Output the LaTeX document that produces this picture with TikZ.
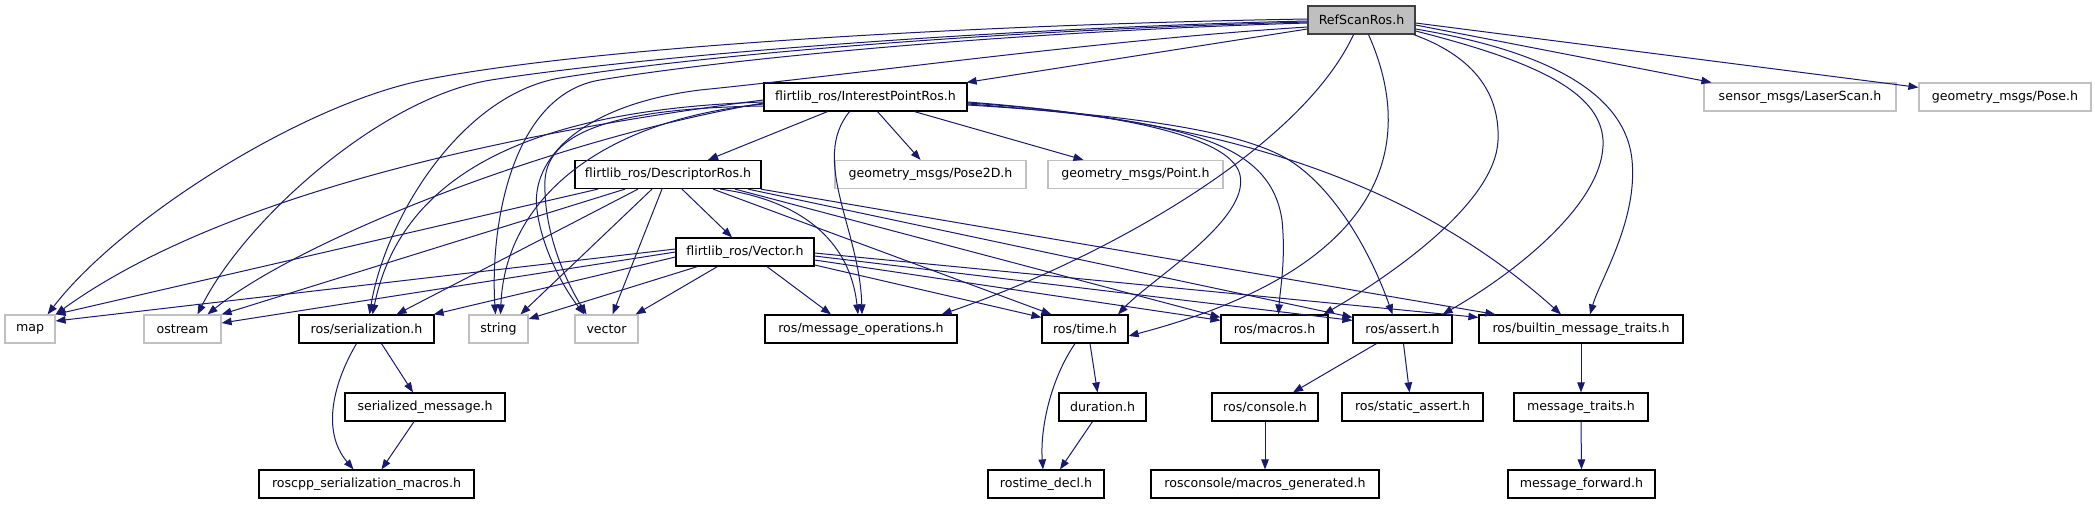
\documentclass[tikz,border=0pt]{standalone}
\usepackage{fontspec}
\setmainfont{DejaVu Sans}
\usetikzlibrary{arrows.meta}
\definecolor{eblue}{HTML}{191970}
\definecolor{lgray}{HTML}{C0C0C0}
\definecolor{rootfill}{HTML}{BFBFBF}
\definecolor{dgray}{HTML}{404040}
\tikzset{
  box/.style={rectangle, draw=black, line width=1.2pt, minimum height=28pt, inner sep=0pt, text=black, font=\fontsize{12.6}{14}\selectfont},
  ext/.style={box, draw=lgray},
  root/.style={box, fill=rootfill, draw=dgray},
  edge/.style={draw=eblue, line width=1pt, -{Triangle[length=10pt,width=7.5pt]}}
}
\begin{document}
\begin{tikzpicture}[x=1pt,y=-1pt]
\useasboundingbox[fill=white] (0,0) rectangle (2095,504);
% row 1
\node[root, minimum width=107pt] (ref) at (1361.5,20) {RefScanRos.h};
% row 2
\node[box, minimum width=203pt] (ipr) at (865.5,97) {flirtlib\_ros/InterestPointRos.h};
\node[ext, minimum width=192pt] (laser) at (1800,97) {sensor\_msgs/LaserScan.h};
\node[ext, minimum width=172pt] (pose) at (2005,97) {geometry\_msgs/Pose.h};
% row 3
\node[box, minimum width=186pt] (desc) at (668,174.5) {flirtlib\_ros/DescriptorRos.h};
\node[ext, minimum width=191pt] (pose2d) at (930.5,174.5) {geometry\_msgs/Pose2D.h};
\node[ext, minimum width=175pt] (point) at (1135.5,174.5) {geometry\_msgs/Point.h};
% row 4
\node[box, minimum width=138pt] (vec) at (745,252) {flirtlib\_ros/Vector.h};
% row 5
\node[ext, minimum width=50pt] (map) at (30,329) {map};
\node[ext, minimum width=77pt] (ostream) at (182.5,329) {ostream};
\node[box, minimum width=135pt] (ser) at (366.5,329) {ros/serialization.h};
\node[ext, minimum width=59pt] (string) at (498.5,329) {string};
\node[ext, minimum width=63pt] (vector) at (606.5,329) {vector};
\node[box, minimum width=192pt] (msgops) at (861,329) {ros/message\_operations.h};
\node[box, minimum width=86pt] (time) at (1085,329) {ros/time.h};
\node[box, minimum width=107pt] (macros) at (1274.5,329) {ros/macros.h};
\node[box, minimum width=99pt] (assert) at (1402.5,329) {ros/assert.h};
\node[box, minimum width=204pt] (builtin) at (1581,329) {ros/builtin\_message\_traits.h};
% row 6
\node[box, minimum width=160pt] (sermsg) at (425,407) {serialized\_message.h};
\node[box, minimum width=87pt] (duration) at (1102.5,407) {duration.h};
\node[box, minimum width=106pt] (console) at (1265,407) {ros/console.h};
\node[box, minimum width=141pt] (static) at (1412.5,407) {ros/static\_assert.h};
\node[box, minimum width=134pt] (msgtraits) at (1581,407) {message\_traits.h};
% row 7
\node[box, minimum width=215pt] (rscm) at (366.5,484) {roscpp\_serialization\_macros.h};
\node[box, minimum width=116pt] (rostime) at (1046,484) {rostime\_decl.h};
\node[box, minimum width=228pt] (macgen) at (1265,484) {rosconsole/macros\_generated.h};
\node[box, minimum width=147pt] (msgfwd) at (1581.5,484) {message\_forward.h};

% ---- RefScanRos.h
\draw[edge] ([yshift=-9]ref.west) -- ([xshift=-1]ipr.north east);
\draw[edge] ([yshift=-5]ref.east) -- ([xshift=8]laser.north west);
\draw[edge] ([yshift=-3]ref.east) -- ([yshift=-5]pose.north west);
\draw[edge] ([yshift=1]ref.west) .. controls (1000,24) and (600,45) .. (424,80) .. controls (300,105) and (120,220) .. ([xshift=-8]map.north east);
\draw[edge] ([yshift=-1]ref.west) .. controls (1000,28) and (650,55) .. (491,80) .. controls (380,98) and (245,220) .. ([xshift=15]ostream.north);
\draw[edge] ([yshift=-2]ref.west) .. controls (1000,30) and (700,55) .. (560,78) .. controls (460,95) and (385,220) .. ([xshift=3]ser.north);
\draw[edge] ([yshift=-3]ref.west) .. controls (1000,32) and (720,60) .. (600,80) .. controls (510,95) and (490,230) .. ([xshift=-3]string.north);
\draw[edge] ([yshift=-7]ref.west) .. controls (1100,40) and (850,75) .. (700,90) .. controls (580,105) and (530,160) .. (537,210) .. controls (542,250) and (565,290) .. ([xshift=-22]vector.north);
\draw[edge] ([xshift=-8]ref.south) .. controls (1300,150) and (1100,260) .. ([xshift=-16]msgops.north east);
\draw[edge] ([xshift=7]ref.south) .. controls (1420,150) and (1380,270) .. ([yshift=-7]time.east);
\draw[edge] ([xshift=-2]ref.south east) .. controls (1470,55) and (1500,90) .. (1498,140) .. controls (1496,200) and (1400,270) .. ([xshift=-5]macros.north east);
\draw[edge] ([yshift=-11]ref.east) .. controls (1530,60) and (1600,90) .. (1603,140) .. controls (1606,200) and (1520,270) .. ([xshift=-10]assert.north east);
\draw[edge] ([yshift=-9]ref.east) .. controls (1540,50) and (1625,90) .. (1632,160) .. controls (1638,220) and (1600,280) .. ([xshift=9]builtin.north);

% ---- InterestPointRos.h
\draw[edge] ([xshift=-38]ipr.south) -- ([xshift=40]desc.north);
\draw[edge] ([xshift=12]ipr.south) -- ([xshift=-10]pose2d.north);
\draw[edge] ([xshift=49]ipr.south) -- ([xshift=-52]point.north);
\draw[edge] ([xshift=-16]ipr.south) .. controls (810,160) and (860,230) .. ([xshift=1]msgops.north);
\draw[edge] ([yshift=-3]ipr.west) .. controls (450,140) and (200,210) .. (map.north east);
\draw[edge] ([yshift=-6]ipr.west) .. controls (550,140) and (300,240) .. ([xshift=25]ostream.north);
\draw[edge] ([yshift=-5]ipr.west) .. controls (520,110) and (400,180) .. ([xshift=6]ser.north);
\draw[edge] ([yshift=-7]ipr.west) .. controls (600,120) and (505,200) .. ([xshift=2]string.north);
\draw[edge] ([yshift=-9]ipr.west) .. controls (620,108) and (548,130) .. (545,180) .. controls (543,230) and (565,280) .. ([xshift=-20]vector.north);
\draw[edge] ([yshift=-6]ipr.east) .. controls (1080,110) and (1230,130) .. (1240,175) .. controls (1250,220) and (1150,280) .. ([xshift=33]time.north);
\draw[edge] ([yshift=-7]ipr.east) .. controls (1180,120) and (1270,140) .. (1282,220) .. controls (1286,260) and (1280,290) .. ([xshift=4]macros.north);
\draw[edge] ([yshift=-8]ipr.east) .. controls (1130,115) and (1230,130) .. (1280,155) .. controls (1330,180) and (1370,250) .. ([xshift=-10]assert.north);
\draw[edge] ([yshift=-5]ipr.east) .. controls (1200,120) and (1400,170) .. ([xshift=-20]builtin.north);

% ---- DescriptorRos.h
\draw[edge] ([xshift=-70]desc.south) -- (map.north east);
\draw[edge] ([xshift=-43]desc.south) -- (ostream.north east);
\draw[edge] ([xshift=-30]desc.south) -- ([xshift=30]ser.north);
\draw[edge] ([xshift=-16]desc.south) -- ([xshift=22]string.north);
\draw[edge] ([xshift=-6]desc.south) -- ([xshift=6]vector.north);
\draw[edge] ([xshift=14]desc.south) -- ([xshift=-13]vec.north);
\draw[edge] ([xshift=52]desc.south) .. controls (800,200) and (850,240) .. ([xshift=-3]msgops.north);
\draw[edge] ([xshift=45]desc.south) -- ([xshift=10]time.north west);
\draw[edge] ([xshift=67]desc.south) -- ([yshift=-3]macros.north west);
\draw[edge] ([xshift=80]desc.south) -- ([yshift=-3]assert.north west);
\draw[edge] ([xshift=-1]desc.south east) -- ([xshift=17]builtin.north west);

% ---- Vector.h
\draw[edge] ([yshift=3]vec.west) -- ([yshift=8]map.east);
\draw[edge] (vec.west) -- ([yshift=6]ostream.east);
\draw[edge] ([yshift=-5]vec.west) -- ([xshift=-1]ser.north east);
\draw[edge] ([xshift=22]vec.south west) -- ([yshift=10]string.east);
\draw[edge] ([xshift=42]vec.south west) -- ([xshift=-3]vector.north east);
\draw[edge] ([xshift=22]vec.south) -- ([xshift=-30]msgops.north);
\draw[edge] ([yshift=-13]vec.east) -- ([yshift=-3]time.north west);
\draw[edge] ([yshift=-8]vec.east) -- ([yshift=-6]macros.north west);
\draw[edge] ([yshift=-4]vec.east) -- ([yshift=-6]assert.north west);
\draw[edge] ([yshift=-1]vec.east) -- ([yshift=-3]builtin.north west);

% ---- lower levels
\draw[edge] ([xshift=15]ser.south) -- ([xshift=-12]sermsg.north);
\draw[edge] ([xshift=-10]ser.south) .. controls (335,380) and (320,430) .. ([xshift=-13]rscm.north);
\draw[edge] ([xshift=-11]sermsg.south) -- ([xshift=15]rscm.north);
\draw[edge] ([xshift=5]time.south) -- ([xshift=-5]duration.north);
\draw[edge] ([xshift=-10]time.south) .. controls (1050,380) and (1040,430) .. ([xshift=-3]rostime.north);
\draw[edge] ([xshift=-10]duration.south) -- ([xshift=14]rostime.north);
\draw[edge] ([xshift=-26]assert.south) -- ([xshift=28]console.north);
\draw[edge] ([xshift=1]assert.south) -- ([xshift=-3]static.north);
\draw[edge] (console.south) -- (macgen.north);
\draw[edge] (builtin.south) -- (msgtraits.north);
\draw[edge] (msgtraits.south) -- (msgfwd.north);
\end{tikzpicture}
\end{document}
